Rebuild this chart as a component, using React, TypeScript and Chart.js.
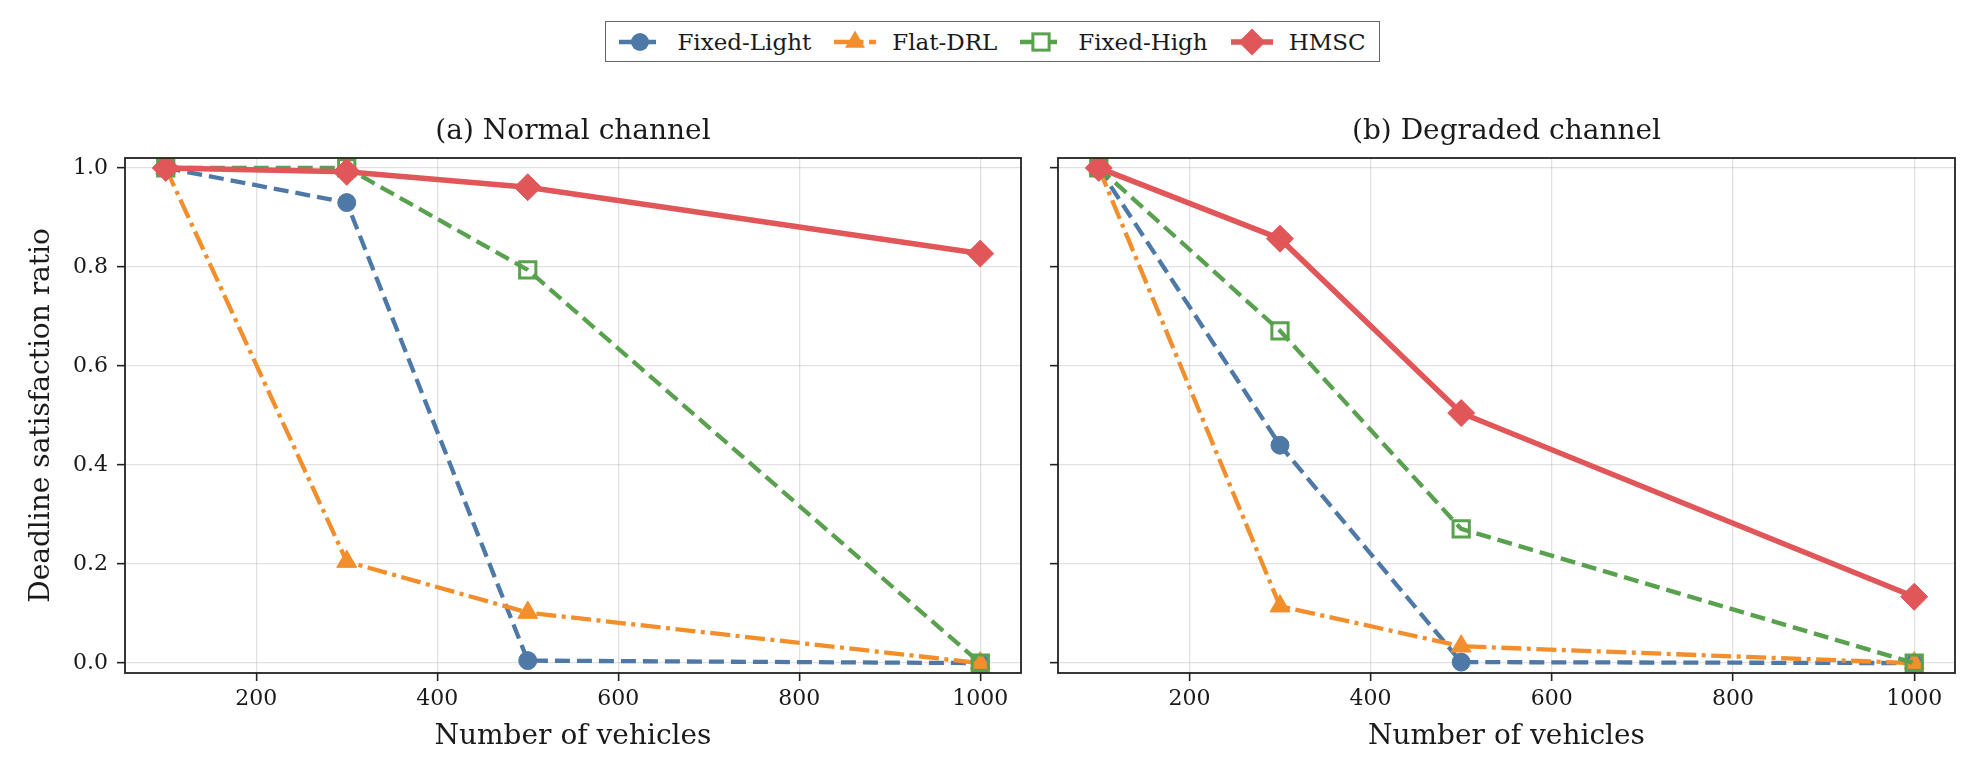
import { useEffect, useRef } from "react";
import Chart from "chart.js/auto";

// vehicle counts on the x axis
const vehicles = [100, 300, 500, 1000];

// (a) normal channel
const normalFixedLight = [1.0, 0.93, 0.005, 0.0];
const normalFlatDrl = [1.0, 0.205, 0.102, 0.0];
const normalFixedHigh = [1.0, 1.0, 0.794, 0.0];
const normalHmsc = [1.0, 0.992, 0.961, 0.827];

// (b) degraded channel
const degradedFixedLight = [1.0, 0.44, 0.002, 0.0];
const degradedFlatDrl = [1.0, 0.115, 0.034, 0.0];
const degradedFixedHigh = [1.0, 0.671, 0.271, 0.0];
const degradedHmsc = [1.0, 0.857, 0.505, 0.134];

const seriesNames = ["Fixed-Light", "Flat-DRL", "Fixed-High", "HMSC"];
const xTicks = [200, 400, 600, 800, 1000];
const yTicks = [0, 0.2, 0.4, 0.6, 0.8, 1.0];

const FONT = "'DejaVu Serif', serif";
const INK = "#1a1a1a";

type SeriesStyle = {
  color: string;
  dash: number[];
  width: number;
  point: "circle" | "triangle" | "rect" | "rectRot";
  radius: number;
  filled: boolean;
  order: number;
};

const styles: SeriesStyle[] = [
  { color: "#4e79a7", dash: [15, 7], width: 4.3, point: "circle", radius: 9, filled: true, order: 4 },
  { color: "#f28e2b", dash: [20, 5.5, 4, 5.5], width: 4.3, point: "triangle", radius: 11.5, filled: true, order: 3 },
  { color: "#59a14f", dash: [15, 7], width: 4.3, point: "rect", radius: 11.5, filled: false, order: 2 },
  { color: "#e15759", dash: [], width: 5.5, point: "rectRot", radius: 13.5, filled: true, order: 1 },
];

// box around the plot area + panel title above it
const panelFrame = {
  id: "panelFrame",
  afterDraw(chart: any, _args: any, opts: any) {
    const { ctx, chartArea: a } = chart;
    ctx.save();
    ctx.strokeStyle = "#222";
    ctx.lineWidth = 1.8;
    ctx.strokeRect(a.left, a.top, a.right - a.left, a.bottom - a.top);
    ctx.font = `28px ${FONT}`;
    ctx.fillStyle = INK;
    ctx.textAlign = "center";
    ctx.textBaseline = "middle";
    ctx.fillText(opts.text, (a.left + a.right) / 2, a.top - 26);
    ctx.restore();
  },
};

type PanelProps = {
  title: string;
  series: number[][];
  showYLabels: boolean;
  left: number;
  width: number;
  yAxisWidth: number;
  padRight: number;
};

function Panel({ title, series, showYLabels, left, width, yAxisWidth, padRight }: PanelProps) {
  const canvasRef = useRef<HTMLCanvasElement | null>(null);
  const chartRef = useRef<Chart | null>(null);

  useEffect(() => {
    if (!canvasRef.current) return;
    if (chartRef.current) {
      chartRef.current.destroy();
      chartRef.current = null;
    }

    const grid = {
      color: "rgba(176,176,176,0.38)",
      lineWidth: 1.3,
      tickColor: "#222",
      tickLength: 8,
      tickWidth: 1.6,
    };

    chartRef.current = new Chart(canvasRef.current, {
      type: "line",
      data: {
        datasets: series.map((vals, i) => {
          const s = styles[i];
          return {
            label: seriesNames[i],
            data: vehicles.map((v, j) => ({ x: v, y: vals[j] })),
            borderColor: s.color,
            borderWidth: s.width,
            borderDash: s.dash,
            tension: 0,
            fill: false,
            order: s.order,
            pointStyle: s.point,
            pointRadius: s.radius,
            pointHoverRadius: s.radius,
            pointBackgroundColor: s.filled ? s.color : "rgba(0,0,0,0)",
            pointBorderColor: s.color,
            pointBorderWidth: s.filled ? 1 : 3,
          };
        }),
      },
      options: {
        animation: false,
        responsive: true,
        maintainAspectRatio: false,
        layout: { padding: { top: 158, right: padRight, left: 0, bottom: 0 } },
        plugins: {
          legend: { display: false },
          tooltip: { enabled: false },
          title: { display: false },
          panelFrame: { text: title },
        } as any,
        scales: {
          x: {
            type: "linear",
            min: 55,
            max: 1045,
            afterBuildTicks: (s: any) => {
              s.ticks = xTicks.map((v) => ({ value: v }));
            },
            afterFit: (s: any) => {
              s.height = 98;
            },
            ticks: {
              font: { family: FONT, size: 22 },
              color: INK,
              padding: 5,
              callback: (v: any) => String(v),
            },
            grid,
            border: { display: false },
            title: {
              display: true,
              text: "Number of vehicles",
              font: { family: FONT, size: 28 },
              color: INK,
              padding: { top: 0, bottom: 17 },
            },
          },
          y: {
            type: "linear",
            min: -0.02,
            max: 1.02,
            afterBuildTicks: (s: any) => {
              s.ticks = yTicks.map((v) => ({ value: v }));
            },
            afterFit: (s: any) => {
              s.width = yAxisWidth;
            },
            ticks: {
              display: showYLabels,
              font: { family: FONT, size: 22 },
              color: INK,
              padding: 9,
              callback: (v: any) => Number(v).toFixed(1),
            },
            grid,
            border: { display: false },
            title: {
              display: showYLabels,
              text: "Deadline satisfaction ratio",
              font: { family: FONT, size: 28 },
              color: INK,
              padding: { top: 25, bottom: 0 },
            },
          },
        },
      },
      plugins: [panelFrame],
    });

    return () => {
      if (chartRef.current) {
        chartRef.current.destroy();
        chartRef.current = null;
      }
    };
  }, [title, series, showYLabels, yAxisWidth, padRight]);

  return (
    <div style={{ position: "absolute", left, top: 0, width, height: 771 }}>
      <canvas ref={canvasRef} />
    </div>
  );
}

function LegendSample({ s }: { s: SeriesStyle }) {
  const cx = 21;
  const cy = 15;
  let marker;
  if (s.point === "circle") {
    marker = <circle cx={cx} cy={cy} r={s.radius} fill={s.color} />;
  } else if (s.point === "triangle") {
    const r = s.radius;
    marker = (
      <polygon
        points={`${cx},${cy - r} ${cx + 0.866 * r},${cy + 0.5 * r} ${cx - 0.866 * r},${cy + 0.5 * r}`}
        fill={s.color}
      />
    );
  } else if (s.point === "rect") {
    const h = s.radius * 0.707;
    marker = (
      <rect x={cx - h} y={cy - h} width={2 * h} height={2 * h} fill="white" stroke={s.color} strokeWidth={3} />
    );
  } else {
    const r = s.radius;
    marker = <polygon points={`${cx - r},${cy} ${cx},${cy - r} ${cx + r},${cy} ${cx},${cy + r}`} fill={s.color} />;
  }
  return (
    <svg width={42} height={30} style={{ overflow: "visible" }}>
      <line
        x1={0}
        y1={cy}
        x2={42}
        y2={cy}
        stroke={s.color}
        strokeWidth={s.width}
        strokeDasharray={s.dash.length ? s.dash.join(" ") : undefined}
      />
      {marker}
    </svg>
  );
}

export default function App() {
  const normal = [normalFixedLight, normalFlatDrl, normalFixedHigh, normalHmsc];
  const degraded = [degradedFixedLight, degradedFlatDrl, degradedFixedHigh, degradedHmsc];

  return (
    <div style={{ position: "absolute", left: 0, top: 0, width: 1980, height: 771, background: "#fff" }}>
      <div
        style={{
          position: "absolute",
          left: 605,
          top: 21,
          width: 775,
          height: 41,
          boxSizing: "border-box",
          border: "1.5px solid #666",
          display: "flex",
          alignItems: "center",
          justifyContent: "center",
          fontFamily: FONT,
          fontSize: 23,
          color: INK,
          background: "#fff",
        }}
      >
        {seriesNames.map((name, i) => (
          <div
            key={name}
            style={{ display: "flex", alignItems: "center", marginRight: i < seriesNames.length - 1 ? 23 : 0 }}
          >
            <LegendSample s={styles[i]} />
            <span style={{ marginLeft: 16, whiteSpace: "nowrap" }}>{name}</span>
          </div>
        ))}
      </div>
      <Panel
        title="(a) Normal channel"
        series={normal}
        showYLabels={true}
        left={0}
        width={1040}
        yAxisWidth={125}
        padRight={19}
      />
      <Panel
        title="(b) Degraded channel"
        series={degraded}
        showYLabels={false}
        left={1040}
        width={940}
        yAxisWidth={18}
        padRight={25}
      />
    </div>
  );
}
